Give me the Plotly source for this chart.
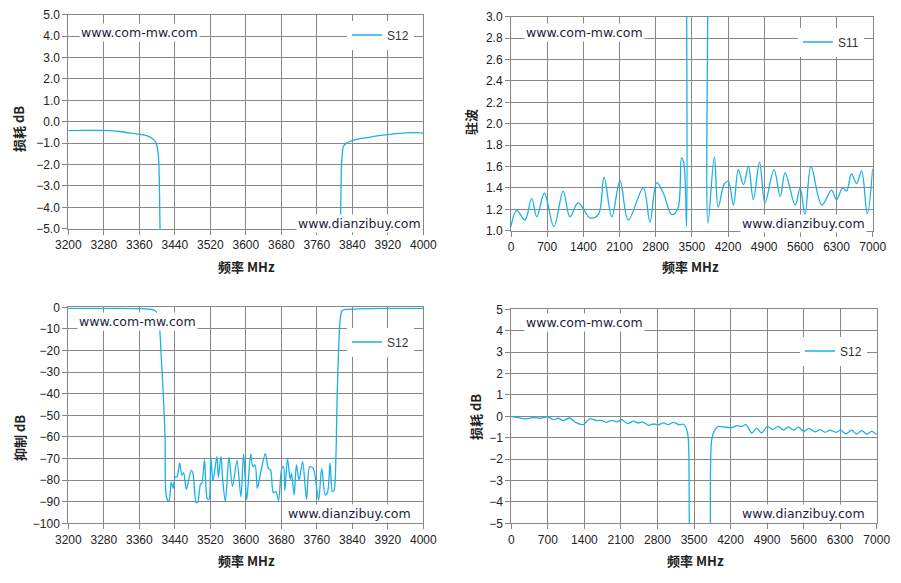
import plotly.graph_objects as go

# ---- data ----
# top-left: S12 around the notch, 3200-4000 MHz
f_tl = [3200, 3240, 3280, 3300, 3320, 3340, 3360, 3372, 3382, 3390, 3396, 3400, 3403,
        3405, 3407, 3410, 3810, 3813, 3815, 3817, 3820, 3827, 3838, 3860, 3880, 3900,
        3920, 3940, 3960, 3980, 4000]
s12_tl = [-0.42, -0.41, -0.41, -0.43, -0.47, -0.53, -0.59, -0.63, -0.70, -0.80, -0.92,
          -1.15, -1.6, -2.6, -5.5, -8, -8, -5.5, -2.5, -1.6, -1.15, -1.0, -0.9, -0.78,
          -0.72, -0.65, -0.6, -0.56, -0.52, -0.51, -0.53]

# top-right: S11 (VSWR), 0-7000 MHz; goes off the top inside the stop band
f_tr = [0, 110, 270, 400, 500, 645, 830, 1010, 1140, 1300, 1530, 1690, 1800, 1950, 2110,
        2270, 2560, 2690, 2820, 2950, 3110, 3230, 3300, 3345, 3398, 3399, 3400, 3808,
        3809, 3812, 3935, 4010, 4130, 4205, 4305, 4400, 4500, 4595, 4690, 4810, 4915,
        5090, 5210, 5305, 5500, 5595, 5690, 5805, 6015, 6205, 6300, 6420, 6495, 6590,
        6690, 6785, 6895, 7000]
s11_tr = [1.04, 1.19, 1.10, 1.30, 1.13, 1.35, 1.04, 1.37, 1.13, 1.26, 1.12, 1.15, 1.50,
          1.13, 1.47, 1.10, 1.40, 1.08, 1.45, 1.35, 1.15, 1.21, 1.68, 1.63, 1.04, 3.3,
          4.5, 4.5, 3.3, 1.07, 1.69, 1.22, 1.44, 1.46, 1.24, 1.57, 1.43, 1.60, 1.29,
          1.64, 1.26, 1.57, 1.32, 1.54, 1.24, 1.40, 1.15, 1.60, 1.24, 1.38, 1.29, 1.40,
          1.37, 1.53, 1.44, 1.56, 1.16, 1.58]

# bottom-left: rejection S12, 3200-4000 MHz
f_bl = [3200, 3300, 3360, 3385, 3395, 3400, 3405, 3410, 3414, 3418, 3421,
        3427, 3432, 3436, 3441, 3445, 3451, 3456, 3460, 3466, 3477, 3481, 3488, 3492,
        3498, 3501, 3507, 3513, 3517, 3521, 3526, 3535, 3538, 3544, 3548, 3554, 3562,
        3570, 3580, 3589, 3595, 3602, 3611, 3616, 3621, 3626, 3634, 3644, 3651, 3656,
        3662, 3668, 3674, 3681, 3685, 3688, 3694, 3700, 3703, 3709, 3714, 3720, 3728,
        3737, 3744, 3752, 3764, 3771, 3779, 3784, 3790, 3795, 3799,
        3803, 3806, 3810, 3813, 3817, 3825, 3840, 3880, 3940, 4000]
s12_bl = [-0.5, -0.5, -0.6, -0.9, -1.5, -3, -8, -25, -40, -60, -87.7,
          -90, -80.8, -83.8, -78.5, -78.5, -72, -77.7, -76.6, -84.3, -75.4, -76.9, -90.5,
          -90, -81.8, -81.5, -70.5, -88.5, -89, -69, -80.3, -69, -78.8, -69, -80, -90,
          -69.5, -83, -71, -87.7, -67.7, -89.2, -68, -73.8, -73, -83.8, -76, -67.7,
          -74.6, -75.4, -85.8, -85.4, -89.5, -74.6, -73.8, -84.9, -70, -79.7, -76.9,
          -86.9, -73, -80, -71.5, -89, -73.8, -74.6, -89.2, -74.6, -86.9, -85.8, -72,
          -85.4, -84.6,
          -70, -40, -15, -5, -1.5, -1.0, -0.8, -0.6, -0.5, -0.5]

# bottom-right: S12 wideband, 0-7000 MHz
f_br = [0, 100, 294, 420, 550, 710, 805, 900, 996, 1111, 1252, 1380, 1507, 1635, 1731,
        1814, 1922, 2018, 2114, 2229, 2338, 2433, 2516, 2625, 2721, 2817, 2912, 3008,
        3104, 3219, 3296, 3360, 3392, 3411, 3420, 3800, 3813, 3839, 3902, 3966, 4062,
        4222, 4318, 4413, 4496, 4605, 4701, 4797, 4905, 5007, 5116, 5212, 5308, 5403,
        5499, 5608, 5703, 5818, 5914, 6010, 6106, 6221, 6310, 6412, 6521, 6617, 6713,
        6809, 6905, 7000]
s12_br = [0.0, -0.05, -0.12, -0.06, -0.09, -0.03, -0.16, -0.09, -0.2, -0.08, -0.31,
          -0.39, -0.11, -0.2, -0.19, -0.28, -0.19, -0.26, -0.16, -0.34, -0.23, -0.31,
          -0.26, -0.42, -0.36, -0.4, -0.31, -0.39, -0.28, -0.4, -0.37, -0.62, -1.09,
          -5.5, -7, -7, -5.5, -1.09, -0.62, -0.47, -0.5, -0.53, -0.44, -0.47, -0.39,
          -0.78, -0.55, -0.78, -0.47, -0.62, -0.47, -0.65, -0.5, -0.65, -0.51, -0.7,
          -0.56, -0.73, -0.62, -0.75, -0.65, -0.75, -0.65, -0.81, -0.65, -0.83, -0.67,
          -0.83, -0.7, -0.86]

ticks_narrow = [3200, 3280, 3360, 3440, 3520, 3600, 3680, 3760, 3840, 3920, 4000]
ticks_wide = [0, 700, 1400, 2100, 2800, 3500, 4200, 4900, 5600, 6300, 7000]

# body margin is removed below, leave a little room for the page's trailing line
W, H = 901, 573
LINE = "#1ab0e8"
GRID = "#878787"
TXT = "#222222"
WM = "#1c1c3c"


def px(x):
    # window pixels -> paper fraction
    return x / W


def py(y):
    return 1 - y / H


def axis(domain, rng, **kw):
    d = dict(domain=domain, range=rng, showgrid=True, gridcolor=GRID, gridwidth=1,
             showline=True, linecolor=GRID, linewidth=1, mirror=True, automargin=False,
             ticks="outside", ticklen=5, tickcolor=GRID, zeroline=False,
             tickfont=dict(family="Liberation Sans", size=12, color=TXT))
    d.update(kw)
    return d


fig = go.Figure()

fig.add_trace(go.Scatter(x=f_tl, y=s12_tl, name="S12", mode="lines", xaxis="x", yaxis="y",
                         line=dict(color=LINE, width=1.3, shape="spline", smoothing=0.6),
                         legend="legend"))
fig.add_trace(go.Scatter(x=f_tr, y=s11_tr, name="S11", mode="lines", xaxis="x2", yaxis="y2",
                         line=dict(color=LINE, width=1.3, shape="spline", smoothing=1),
                         legend="legend2"))
fig.add_trace(go.Scatter(x=f_bl, y=s12_bl, name="S12", mode="lines", xaxis="x3", yaxis="y3",
                         line=dict(color=LINE, width=1.3, shape="spline", smoothing=0.8),
                         legend="legend3"))
fig.add_trace(go.Scatter(x=f_br, y=s12_br, name="S12", mode="lines", xaxis="x4", yaxis="y4",
                         line=dict(color=LINE, width=1.3, shape="spline", smoothing=0.8),
                         legend="legend4"))

leg = dict(bgcolor="white", borderwidth=0, xanchor="left", yanchor="middle",
           font=dict(family="Liberation Sans", size=12, color="#333333"))

fig.update_layout(
    width=W, height=H, margin=dict(l=0, r=0, t=0, b=0, autoexpand=False),
    paper_bgcolor="white", plot_bgcolor="white", showlegend=True,
    xaxis=axis([px(68.3), px(423.3)], [3200, 4000], tickvals=ticks_narrow, anchor="y"),
    yaxis=axis([py(228.7), py(14.7)], [-5, 5], dtick=1, tickformat=".1f", anchor="x"),
    xaxis2=axis([px(511), px(872.7)], [0, 7000], tickvals=ticks_wide, anchor="y2"),
    yaxis2=axis([py(230.7), py(16.7)], [1, 3], dtick=0.2, tickformat=".1f", anchor="x2"),
    xaxis3=axis([px(68.3), px(423.3)], [3200, 4000], tickvals=ticks_narrow, anchor="y3"),
    yaxis3=axis([py(523.3), py(307.3)], [-100, 0], dtick=10, anchor="x3"),
    xaxis4=axis([px(511.3), px(876.7)], [0, 7000], tickvals=ticks_wide, anchor="y4"),
    yaxis4=axis([py(523.3), py(309.3)], [-5, 5], dtick=1, anchor="x4"),
    legend=dict(leg, x=px(347), y=py(35)),
    legend2=dict(leg, x=px(798), y=py(42)),
    legend3=dict(leg, x=px(347), y=py(342)),
    legend4=dict(leg, x=px(800), y=py(351)),
)

# axis titles
title_font = dict(family="Noto Sans CJK SC", size=13, color=TXT)
xtitles = [(246, 266), (690, 266), (246, 560), (695, 560)]
ytitles = [("损耗 dB", 19, 129), ("驻波", 471, 122), ("抑制 dB", 19, 438), ("损耗 dB", 475, 417)]
for x, y in xtitles:
    fig.add_annotation(text="<b>频率 MHz</b>", xref="paper", yref="paper", x=px(x), y=py(y),
                       showarrow=False, font=title_font, xanchor="center", yanchor="middle")
for t, x, y in ytitles:
    fig.add_annotation(text="<b>" + t + "</b>", xref="paper", yref="paper", x=px(x), y=py(y),
                       showarrow=False, font=title_font, textangle=-90,
                       xanchor="center", yanchor="middle")

# watermarks
wm_font = dict(family="DejaVu Sans", size=12.5, color=WM)
for x, y in [(79, 32), (524, 32), (77, 321), (524, 322)]:
    fig.add_annotation(text="www.com-mw.com", xref="paper", yref="paper", x=px(x), y=py(y),
                       showarrow=False, font=wm_font, bgcolor="white",
                       xanchor="left", yanchor="middle")
for x, y in [(296, 223), (740, 223), (286, 513), (740, 513)]:
    fig.add_annotation(text="www.dianzibuy.com", xref="paper", yref="paper", x=px(x), y=py(y),
                       showarrow=False, font=wm_font, bgcolor="white",
                       xanchor="left", yanchor="middle")

fig.write_html("out.html", config={"displayModeBar": False},
               post_script="document.body.style.margin = '0';")
